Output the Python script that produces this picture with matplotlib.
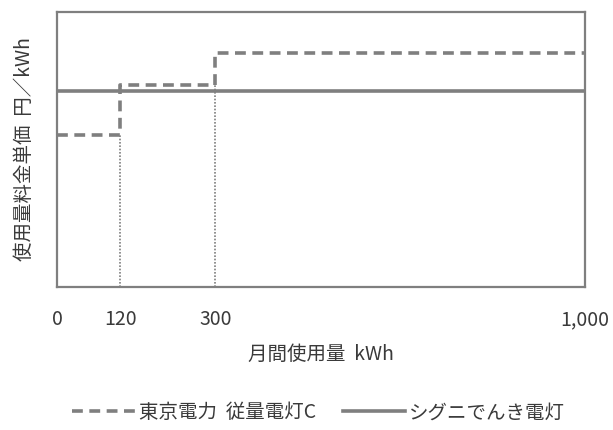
import matplotlib
matplotlib.use("Agg")
import matplotlib.pyplot as plt
from matplotlib.lines import Line2D

plt.rcParams['font.family'] = ['Noto Sans CJK JP', 'DejaVu Sans']

# Data
tepco_x = [0, 120, 120, 300, 300, 1000]
tepco_y = [19.88, 19.88, 26.48, 26.48, 30.57, 30.57]
signi_x = [0, 1000]
signi_y = [25.6, 25.6]
boundaries = [120, 300]
boundary_levels = [19.88, 26.48]
xticks = [0, 120, 300, 1000]
xticklabels = ['0', '120', '300', '1,000']

gray = '#7f7f7f'
tc = '#3a3a3a'

fig = plt.figure(figsize=(6.13, 4.30), dpi=100)
ax = fig.add_axes([0.093, 0.333, 0.861, 0.639])

ax.plot(signi_x, signi_y, color=gray, lw=2.6, solid_capstyle='butt', zorder=2)
ax.plot(tepco_x, tepco_y, color=gray, lw=2.6, ls=(0, (3, 1.8)), zorder=3)
for bx, by in zip(boundaries, boundary_levels):
    ax.plot([bx, bx], [0, by], color=gray, lw=1.2, ls=(0, (1, 1)), zorder=1)

ax.set_xlim(0, 1000)
ax.set_ylim(0, 36)
ax.set_xticks(xticks)
ax.set_xticklabels(xticklabels, fontsize=14, color=tc)
ax.set_yticks([])
ax.tick_params(axis='x', length=0, pad=16)
for s in ax.spines.values():
    s.set_color(gray)
    s.set_linewidth(1.6)

ax.set_xlabel('月間使用量  kWh', fontsize=14, color=tc, labelpad=10)
ax.set_ylabel('使用量料金単価  円／kWh', fontsize=14, color=tc, labelpad=16)

handles = [Line2D([], [], color=gray, lw=2.6, ls=(0, (3, 1.8))),
           Line2D([], [], color=gray, lw=2.6)]
fig.legend(handles, ['東京電力  従量電灯C', 'シグニでんき電灯'],
           loc='center', bbox_to_anchor=(0.52, 0.04), ncol=2, frameon=False,
           fontsize=14, handlelength=3.2, handletextpad=0.2, columnspacing=1.4,
           labelcolor=tc)

fig.savefig('out.png', dpi=100, facecolor='white')
